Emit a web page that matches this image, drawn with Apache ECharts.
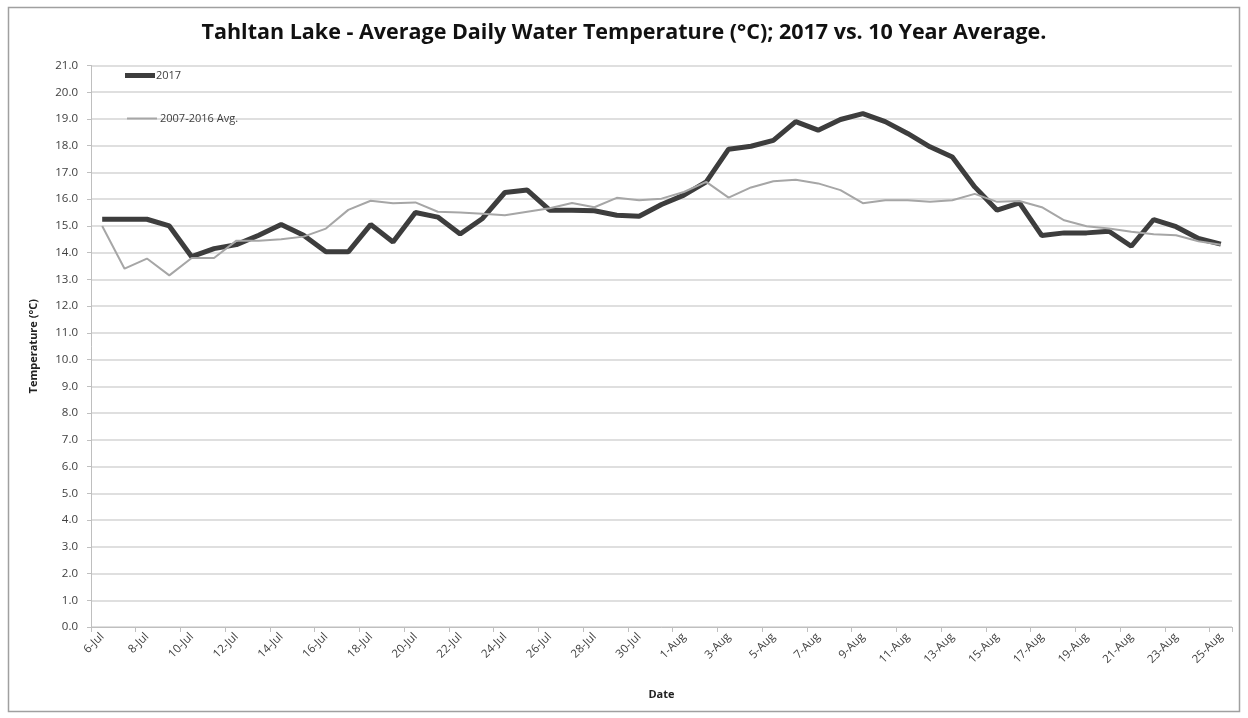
<!DOCTYPE html>
<html>
<head>
<meta charset="utf-8">
<script src="https://cdn.jsdelivr.net/npm/echarts@6/dist/echarts.min.js"></script>
<style>
html,body{margin:0;padding:0;background:#fff;}
#c{width:1248px;height:718px;}
</style>
</head>
<body>
<div id="c"></div>
<script>
const dates = ['6-Jul','7-Jul','8-Jul','9-Jul','10-Jul','11-Jul','12-Jul','13-Jul','14-Jul','15-Jul','16-Jul','17-Jul','18-Jul','19-Jul','20-Jul','21-Jul','22-Jul','23-Jul','24-Jul','25-Jul','26-Jul','27-Jul','28-Jul','29-Jul','30-Jul','31-Jul',
'1-Aug','2-Aug','3-Aug','4-Aug','5-Aug','6-Aug','7-Aug','8-Aug','9-Aug','10-Aug','11-Aug','12-Aug','13-Aug','14-Aug','15-Aug','16-Aug','17-Aug','18-Aug','19-Aug','20-Aug','21-Aug','22-Aug','23-Aug','24-Aug','25-Aug'];
const temp2017 = [15.25,15.25,15.25,15.0,13.85,14.15,14.3,14.65,15.05,14.65,14.03,14.03,15.05,14.4,15.5,15.33,14.7,15.28,16.25,16.34,15.59,15.59,15.57,15.4,15.36,15.8,
16.15,16.65,17.87,17.98,18.2,18.9,18.58,18.98,19.2,18.9,18.46,17.96,17.58,16.46,15.59,15.86,14.64,14.74,14.74,14.8,14.24,15.24,14.97,14.53,14.32];
const avg0716 = [15.0,13.4,13.78,13.15,13.8,13.8,14.45,14.45,14.5,14.6,14.9,15.6,15.94,15.85,15.88,15.53,15.5,15.46,15.4,15.53,15.66,15.86,15.7,16.05,15.96,16.02,
16.27,16.65,16.06,16.44,16.67,16.73,16.59,16.34,15.85,15.96,15.96,15.9,15.96,16.2,15.9,15.93,15.7,15.21,14.99,14.9,14.78,14.69,14.65,14.43,14.3];
const yTicks = {min:0, max:21, step:1};

const FONT = '"Open Sans", "Liberation Sans", sans-serif';
const chart = echarts.init(document.getElementById('c'));
chart.setOption({
  backgroundColor:'#fff',
  animation:false,
  title:{
    text:'Tahltan Lake - Average Daily Water Temperature (°C); 2017 vs. 10 Year Average.',
    left:'center', top:17,
    textStyle:{fontFamily:FONT, fontWeight:'bold', fontSize:21.5, color:'#111'}
  },
  graphic:[{type:'rect', shape:{x:8.5,y:7.5,width:1231,height:704}, style:{fill:'none', stroke:'#a0a0a0', lineWidth:1.5}, silent:true}],
  legend:[
    {left:120, top:65, itemWidth:30, itemHeight:5, icon:'rect', itemGap:4,
     textStyle:{fontFamily:FONT, fontSize:11, color:'#404040', padding:[0,0,0,-4]},
     data:['2017']},
    {left:122, top:108, itemWidth:30, itemHeight:2, icon:'rect', itemGap:4,
     textStyle:{fontFamily:FONT, fontSize:11, color:'#404040', padding:[0,0,0,-2]},
     data:['2007-2016 Avg.']}
  ],
  grid:{left:91, right:16, top:65.5, bottom:91},
  xAxis:{
    type:'category', data:dates, boundaryGap:true,
    name:'Date', nameLocation:'middle', nameGap:62,
    nameTextStyle:{fontFamily:FONT, fontWeight:'bold', fontSize:11, color:'#222'},
    axisLine:{lineStyle:{color:'#bfbfbf', width:1}},
    axisTick:{show:true, interval:1, length:5, lineStyle:{color:'#bfbfbf'}},
    axisLabel:{interval:1, rotate:45, fontFamily:FONT, fontSize:11.5, color:'#404040', margin:8},
    splitLine:{show:false}
  },
  yAxis:{
    type:'value', min:yTicks.min, max:yTicks.max, interval:yTicks.step,
    name:'Temperature (°C)', nameLocation:'middle', nameGap:52,
    nameTextStyle:{fontFamily:FONT, fontWeight:'bold', fontSize:11, color:'#222'},
    axisLine:{show:true, lineStyle:{color:'#bfbfbf'}},
    axisTick:{show:true, length:4, lineStyle:{color:'#bfbfbf'}},
    axisLabel:{fontFamily:FONT, fontSize:11.5, color:'#404040', margin:13, formatter:v=>v.toFixed(1)},
    splitLine:{show:true, lineStyle:{color:'#d4d4d4', width:1.5}}
  },
  series:[
    {name:'2017', type:'line', data:temp2017, symbol:'none', lineStyle:{color:'#3d3d3d', width:5}, itemStyle:{color:'#3d3d3d'}, z:2},
    {name:'2007-2016 Avg.', type:'line', data:avg0716, symbol:'none', lineStyle:{color:'#a6a6a6', width:2}, itemStyle:{color:'#a6a6a6'}, z:3}
  ]
});
</script>
</body>
</html>
